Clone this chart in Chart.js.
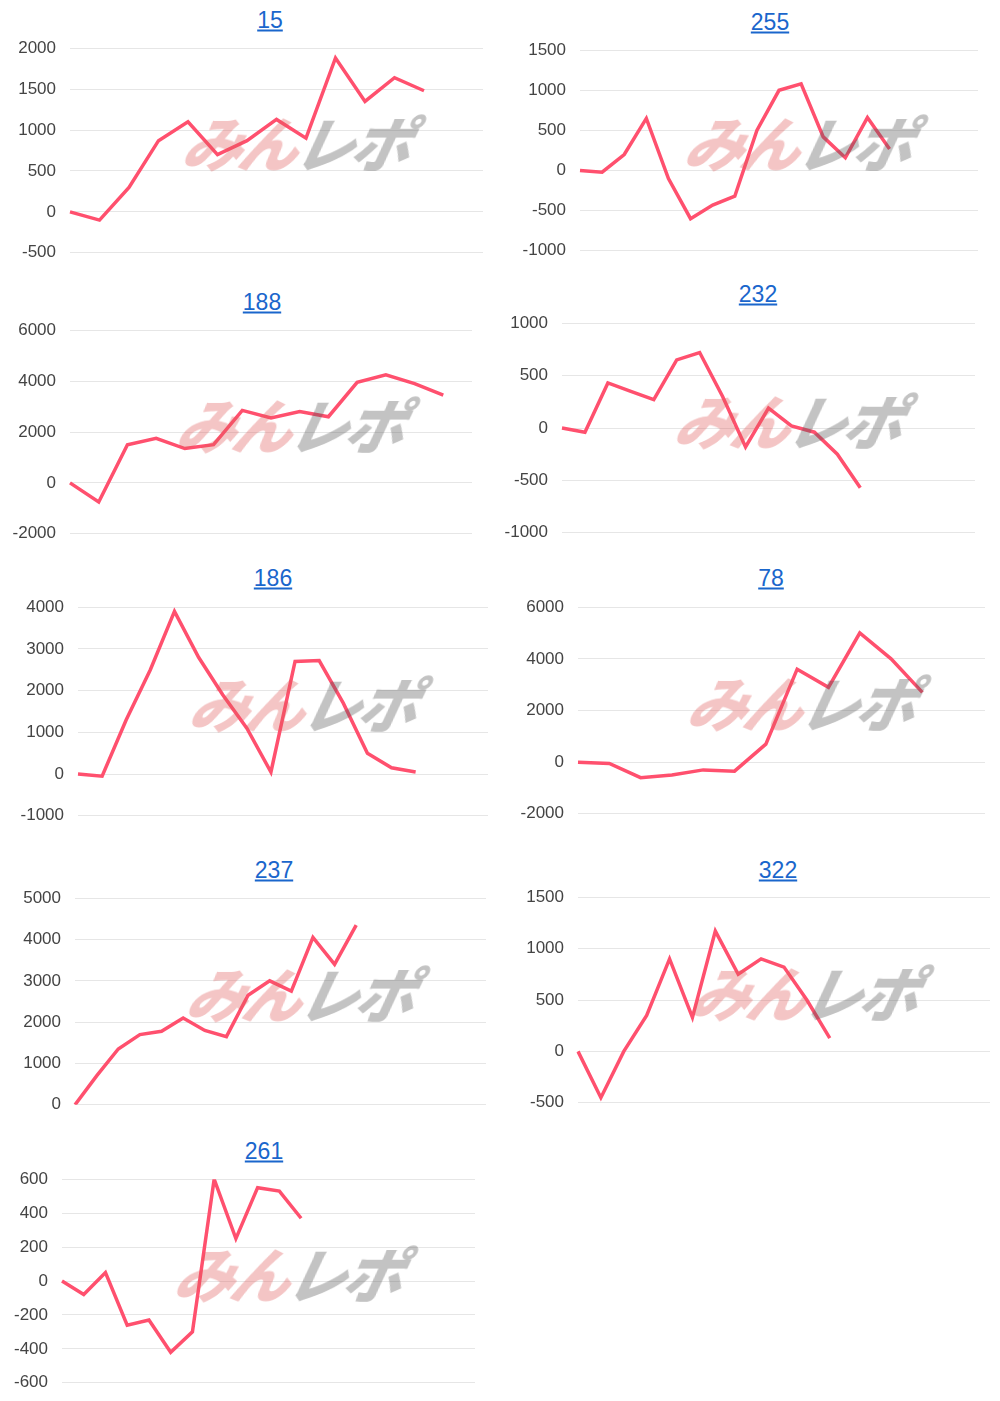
<!DOCTYPE html>
<html><head><meta charset="utf-8">
<script src="https://cdn.jsdelivr.net/npm/chart.js@4"></script>
<style>
body{margin:0;background:#fff;font-family:"Liberation Sans",Arial,sans-serif;}
#wrap{position:relative;width:1000px;height:1401px;}
.t{position:absolute;font-size:23px;color:#1a66cc;text-decoration:underline;transform:translate(-50%,-50%);}
.c{position:absolute;}
.wm{position:absolute;font:italic 900 60px "Noto Sans CJK JP";letter-spacing:-4px;opacity:.35;transform:translate(-50%,-50%) skewX(-12deg);pointer-events:none;white-space:nowrap;}
.wm .a{color:#e05a5a}.wm .b{color:#555}
</style></head><body><div id="wrap"></div>
<script>
const titles=["15","255","188","232","186","78","237","322","261"];
const nLabels=[15,19,15,19,18,14,20,19,20];
const s15=[0,-100,300,870,1100,700,870,1130,900,1880,1350,1640,1480];
const s255=[0,-20,200,650,-100,-600,-430,-320,500,1000,1080,420,160,660,270];
const s188=[0,-750,1500,1750,1350,1500,2850,2550,2800,2600,3950,4250,3900,3450];
const s232=[0,-40,430,350,270,650,720,300,-180,190,20,-40,-250,-570];
const s186=[0,-50,1300,2500,3900,2800,1900,1100,50,2700,2720,1700,500,150,50];
const s78=[0,-50,-600,-500,-300,-350,700,3600,2900,5000,4000,2700];
const s237=[0,700,1350,1700,1780,2100,1800,1650,2650,3000,2750,4050,3400,4350];
const s322=[0,-450,0,350,900,330,1170,750,900,820,500,130];
const s261=[0,-80,50,-260,-230,-420,-300,600,250,550,530,370];
const series=[s15,s255,s188,s232,s186,s78,s237,s322,s261];
const yMin=[-500,-1000,-2000,-1000,-1000,-2000,0,-500,-600];
const yMax=[2000,1500,6000,1000,4000,6000,5000,1500,600];
const yStep=[500,500,2000,500,1000,2000,1000,500,200];
// layout: [canvasLeft, areaLeft, areaRight, areaTop, areaBottom, titleX, titleY]
const L=[[0,70,483,48,253,270,20],[495,580,978,50,251,770,22],[0,70,472,330,534,262,302],[495,562,975,323,533,758,294],
[0,78,488,607,816,273,578],[495,578,985,607,814,771,578],[0,75,486,898,1105,274,870],[495,578,990,897,1103,778,870],[0,62,475,1179,1383,264,1151]];
const wrap=document.getElementById('wrap');
series.forEach((d,i)=>{
 const [cl,al,ar,at,ab,tx,ty]=L[i];
 const t=document.createElement('div');t.className='t';t.textContent=titles[i];t.style.left=tx+'px';t.style.top=ty+'px';wrap.appendChild(t);
 const pad=24;
 const div=document.createElement('div');div.className='c';
 div.style.left=cl+'px';div.style.top=(at-pad)+'px';div.style.width=(ar-cl+2)+'px';div.style.height=(ab-at+2*pad)+'px';
 const cv=document.createElement('canvas');div.appendChild(cv);wrap.appendChild(div);
 const wm=document.createElement('div');wm.className='wm';wm.innerHTML='<span class="a">みん</span><span class="b">レポ</span>';
 wm.style.left=(al+(ar-al)*0.55)+'px';wm.style.top=(at+(ab-at)*0.45)+'px';wrap.appendChild(wm);
 new Chart(cv,{type:'line',data:{labels:Array.from({length:nLabels[i]},(_,k)=>String(k+1)),
  datasets:[{data:d,borderColor:'rgb(255,80,110)',borderWidth:3.5,pointRadius:0,tension:0,fill:false}]},
  options:{responsive:true,maintainAspectRatio:false,animation:false,
   layout:{padding:{top:0,bottom:0,left:0,right:2}},
   plugins:{legend:{display:false},tooltip:{enabled:false}},
   scales:{x:{display:false},
    y:{min:yMin[i],max:yMax[i],ticks:{stepSize:yStep[i],padding:14,callback:v=>String(v),color:'#444',font:{size:17,family:'Liberation Sans'}},
     grid:{color:'#e6e6e6',drawTicks:false},border:{display:false},
     afterFit:s=>{s.width=al-cl;}}}}});
});
</script></body></html>
